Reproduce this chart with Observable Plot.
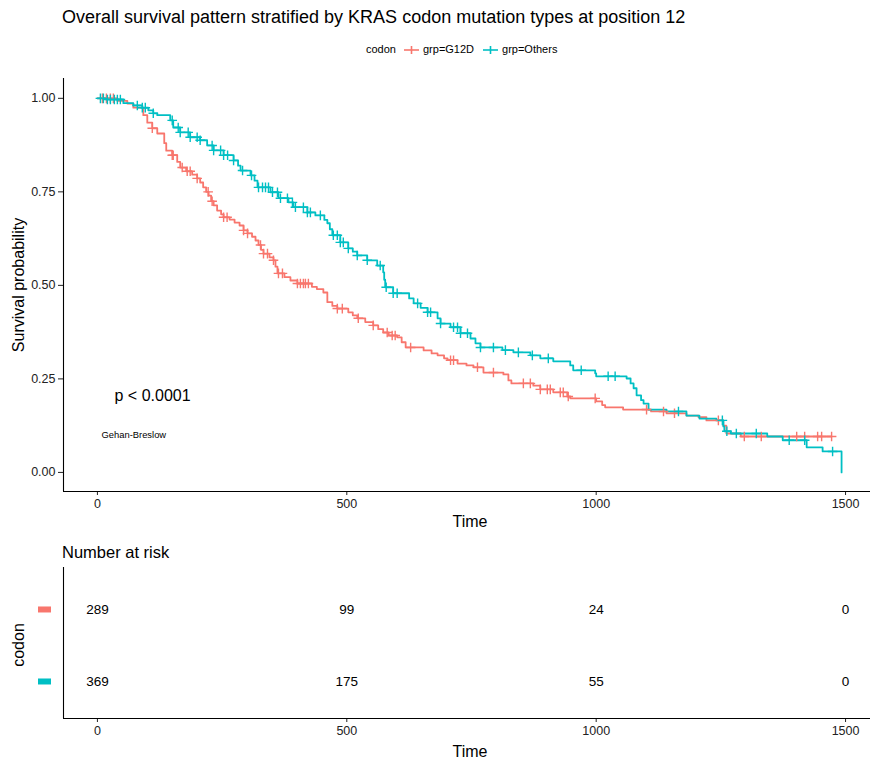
<!DOCTYPE html>
<html><head><meta charset="utf-8">
<script src="https://cdn.jsdelivr.net/npm/d3@7"></script>
<script src="https://cdn.jsdelivr.net/npm/@observablehq/plot@0.6"></script>
<style>
body{margin:0;background:#fff;font-family:"Liberation Sans",Arial,sans-serif;}
#root{position:relative;width:870px;height:762px;overflow:hidden;background:#fff;}
.abs{position:absolute;white-space:nowrap;color:#000;line-height:1;}
.rot{transform:translate(-50%,-50%) rotate(-90deg);}
.ctr{transform:translate(-50%,-50%);}
.plotsvg{position:absolute;left:0;}
.key{display:inline-block;vertical-align:middle;}
</style></head><body><div id="root"></div>
<script>
// ---- data ----
const groups = ["grp=G12D", "grp=Others"];
const groupColors = ["#F8766D", "#00BFC4"];

const g12dTime = [0,40,60,72,92,100,110,120,134,138,150,160,166,178,190,200,206,212,218,223,228,233,240,248,253,265,275,285,293,301,310,317,323,328,333,345,353,357,361,375,387,401,430,440,453,461,471,481,503,512,521,537,553,563,573,584,601,610,618,654,670,682,695,702,722,740,754,774,814,824,830,874,888,914,942,948,1000,1012,1018,1054,1110,1141,1181,1205,1221,1255,1261,1290];
const g12dSurv = [1.0,0.993,0.986,0.975,0.955,0.935,0.92,0.906,0.88,0.86,0.848,0.83,0.815,0.805,0.796,0.786,0.775,0.762,0.75,0.74,0.725,0.714,0.70,0.69,0.682,0.676,0.668,0.66,0.647,0.639,0.63,0.62,0.608,0.595,0.585,0.575,0.567,0.55,0.532,0.522,0.513,0.505,0.496,0.49,0.481,0.455,0.445,0.438,0.428,0.42,0.412,0.402,0.393,0.383,0.374,0.366,0.361,0.348,0.334,0.326,0.318,0.313,0.305,0.30,0.291,0.286,0.281,0.267,0.262,0.246,0.238,0.232,0.222,0.214,0.203,0.198,0.19,0.18,0.174,0.168,0.163,0.158,0.152,0.148,0.139,0.125,0.104,0.096];
const g12dCensor = [10,18,26,32,110,150,152,170,180,186,200,222,230,253,260,293,301,327,333,341,353,363,371,401,407,413,417,423,481,491,523,553,581,591,597,628,708,714,762,794,854,868,888,902,908,928,934,944,998,1101,1135,1157,1245,1297,1331,1402,1418,1444,1452,1472];

const othersTime = [0,20,52,72,90,102,112,120,146,152,166,186,206,220,233,253,273,282,287,307,315,321,347,363,383,393,421,437,455,461,466,471,487,503,512,521,541,561,573,575,577,593,625,634,648,662,682,688,708,728,748,758,768,812,834,868,888,914,948,954,998,1000,1061,1069,1075,1081,1090,1095,1105,1141,1181,1207,1241,1255,1257,1270,1343,1374,1422,1454,1492];
const othersSurv = [1.0,0.997,0.987,0.981,0.975,0.968,0.96,0.955,0.941,0.922,0.909,0.896,0.888,0.874,0.861,0.848,0.834,0.82,0.807,0.794,0.78,0.762,0.749,0.733,0.722,0.709,0.695,0.687,0.675,0.666,0.65,0.634,0.615,0.599,0.59,0.58,0.567,0.553,0.535,0.515,0.495,0.479,0.465,0.452,0.44,0.428,0.412,0.398,0.388,0.372,0.358,0.345,0.334,0.327,0.321,0.313,0.305,0.297,0.286,0.273,0.265,0.257,0.251,0.238,0.225,0.206,0.193,0.184,0.168,0.163,0.152,0.144,0.139,0.123,0.11,0.104,0.096,0.086,0.067,0.056,0.0];
const othersCensor = [6,12,20,26,34,40,46,80,90,96,112,150,162,166,182,186,200,206,230,233,247,253,261,273,291,309,323,331,337,343,351,361,367,381,391,397,413,421,427,447,473,481,487,493,503,521,541,567,579,593,601,642,662,668,688,714,722,728,742,768,794,818,844,872,904,970,1024,1038,1165,1253,1262,1281,1321,1387,1418,1474];

const riskTimes = [0,500,1000,1500];
const riskG12D = [289,99,24,0];
const riskOthers = [369,175,55,0];

const yTicks = [0,0.25,0.5,0.75,1];
const xTicks = [0,500,1000,1500];

// ---- build tables ----
function stepAt(times, surv, t){ let s = surv[0]; for(let i=0;i<times.length;i++){ if(times[i]<=t) s=surv[i]; } return s; }
function curve(name, times, surv, cens){
  const pts = times.map((t,i)=>({grp:name,t,s:surv[i]}));
  const lastC = d3.max(cens), lastT = times[times.length-1];
  if (lastC > lastT) pts.push({grp:name,t:lastC,s:surv[surv.length-1]});
  return pts;
}
const curveData = [...curve(groups[0], g12dTime, g12dSurv, g12dCensor), ...curve(groups[1], othersTime, othersSurv, othersCensor)];
const censorData = [
  ...g12dCensor.map(t=>({grp:groups[0], t, s:stepAt(g12dTime,g12dSurv,t)})),
  ...othersCensor.map(t=>({grp:groups[1], t, s:stepAt(othersTime,othersSurv,t)}))
];
const rowOf = {[groups[0]]:2, [groups[1]]:1};
const riskData = [
  ...riskTimes.map((t,i)=>({grp:groups[0], t, n:riskG12D[i]})),
  ...riskTimes.map((t,i)=>({grp:groups[1], t, n:riskOthers[i]}))
];

const xDomain = [-68, 1550];
const yDomain = [-0.051, 1.053];
const rDomain = [0.486, 2.583];
const font = "Liberation Sans, Arial, sans-serif";
const intFmt = d => String(d);

const main = Plot.plot({
  width:870, height:540, marginTop:78, marginBottom:49, marginLeft:63, marginRight:0,
  style:{fontFamily:font, fontSize:"12px", color:"#222", background:"transparent"},
  x:{domain:xDomain}, y:{domain:yDomain},
  color:{domain:groups, range:groupColors},
  marks:[
    Plot.axisY({ticks:yTicks, tickFormat:".2f", tickSize:5, tickPadding:3, label:null, fontSize:12.5}),
    Plot.axisX({ticks:xTicks, tickFormat:intFmt, tickSize:4, tickPadding:4, label:null, fontSize:12.5}),
    Plot.ruleX([xDomain[0]], {stroke:"#000", strokeWidth:1.1}),
    Plot.ruleY([yDomain[0]], {stroke:"#000", strokeWidth:1.1}),
    Plot.line(curveData, {x:"t", y:"s", stroke:"grp", curve:"step-after", strokeWidth:1.8}),
    Plot.dot(censorData, {x:"t", y:"s", stroke:"grp", symbol:"plus", r:3.2, strokeWidth:1.4}),
    Plot.text(["p < 0.0001"], {text:d=>d, frameAnchor:"bottom-left", dx:51, dy:-91, textAnchor:"start", fontSize:16, fill:"#000"}),
    Plot.text(["Gehan-Breslow"], {text:d=>d, frameAnchor:"bottom-left", dx:38, dy:-54, textAnchor:"start", fontSize:9.4, fill:"#000"})
  ]
});
main.classList.add("plotsvg");
main.style.top = "0px";

const rectSymbol = {draw(ctx){ ctx.rect(-6.5,-3,13,6); }};
const risk = Plot.plot({
  width:870, height:222, marginTop:27, marginBottom:44, marginLeft:63, marginRight:0,
  style:{fontFamily:font, fontSize:"12px", color:"#222", background:"transparent"},
  x:{domain:xDomain}, y:{domain:rDomain, axis:null},
  color:{domain:groups, range:groupColors},
  marks:[
    Plot.axisX({ticks:xTicks, tickFormat:intFmt, tickSize:4, tickPadding:4, label:null, fontSize:12.5}),
    Plot.ruleX([xDomain[0]], {stroke:"#000", strokeWidth:1.1}),
    Plot.ruleY([rDomain[0]], {stroke:"#000", strokeWidth:1.1}),
    Plot.dot(groups, {y:d=>rowOf[d], fill:d=>d, stroke:null, symbol:rectSymbol, frameAnchor:"left", dx:-19}),
    Plot.text(riskData, {x:"t", y:d=>rowOf[d.grp], text:"n", fontSize:13.5, fill:"#000"})
  ]
});
risk.classList.add("plotsvg");
risk.style.top = "540px";

const root = document.getElementById("root");
root.appendChild(main);
root.appendChild(risk);

function addText(html, cls, left, top, size){
  const d = document.createElement("div");
  d.className = "abs " + cls; d.innerHTML = html;
  d.style.left = left+"px"; d.style.top = top+"px"; d.style.fontSize = size+"px";
  root.appendChild(d); return d;
}
addText("Overall survival pattern stratified by KRAS codon mutation types at position 12", "", 62, 8, 18);
addText("Survival probability", "rot", 19, 285, 16);
addText("Time", "ctr", 470, 522, 16);
addText("Number at risk", "", 62, 544, 16.5);
addText("codon", "rot", 19, 645, 16);
addText("Time", "ctr", 470, 752, 16);

// legend
const key = c => `<svg class="key" width="15" height="10"><line x1="0" y1="5" x2="15" y2="5" stroke="${c}" stroke-width="1.6"/><line x1="7.5" y1="1" x2="7.5" y2="9" stroke="${c}" stroke-width="1.6"/></svg>`;
const leg = addText(`<span style="margin-right:8px">codon</span>${key(groupColors[0])}<span style="margin:0 9px 0 4px">${groups[0]}</span>${key(groupColors[1])}<span style="margin-left:4px">${groups[1]}</span>`, "", 366, 44, 11);
leg.style.display = "flex"; leg.style.alignItems = "center";
</script>
</body></html>
